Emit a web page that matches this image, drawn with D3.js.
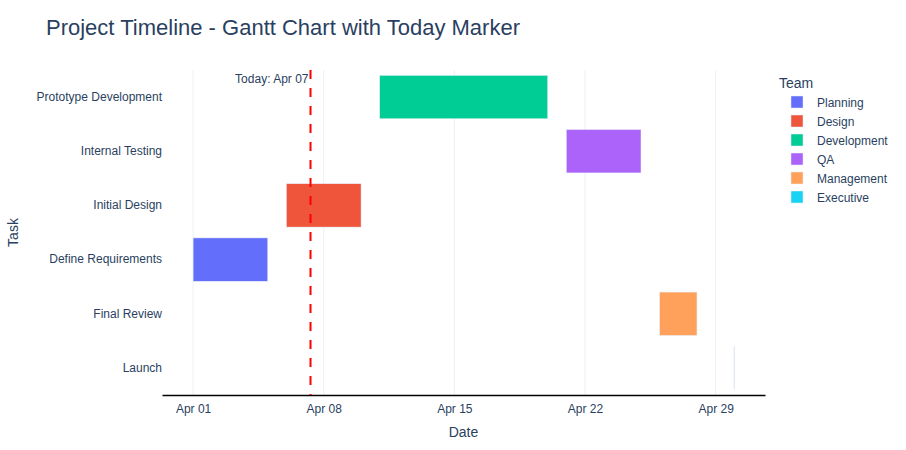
<!DOCTYPE html>
<html>
<head>
<meta charset="utf-8">
<script src="https://cdn.jsdelivr.net/npm/d3@7"></script>
<style>
  html, body { margin: 0; padding: 0; background: #fff; }
  svg { display: block; font-family: Arial, "Liberation Sans", sans-serif; }
</style>
</head>
<body>
<svg id="chart" width="906" height="450"></svg>
<script>
// ---- data ----
const tasks = ["Define Requirements", "Initial Design", "Prototype Development", "Internal Testing", "Final Review", "Launch"];
const starts = ["2024-04-01", "2024-04-06", "2024-04-11", "2024-04-21", "2024-04-26", "2024-04-30"];
const ends   = ["2024-04-05", "2024-04-10", "2024-04-20", "2024-04-25", "2024-04-28", "2024-04-30"];
const teams  = ["Planning", "Design", "Development", "QA", "Management", "Executive"];
const yOrder = ["Prototype Development", "Internal Testing", "Initial Design", "Define Requirements", "Final Review", "Launch"];
const legendTeams = ["Planning", "Design", "Development", "QA", "Management", "Executive"];
const teamColors = ["#636efa", "#EF553B", "#00cc96", "#ab63fa", "#FFA15A", "#19d3f3"];
const todayDate = "2024-04-07T07:00:00";
const todayLabel = "Today: Apr 07";
const xDomain = ["2024-03-30T08:00:00", "2024-05-01T15:30:00"];
const tickDates = ["2024-04-01", "2024-04-08", "2024-04-15", "2024-04-22", "2024-04-29"];

// ---- layout ----
const W = 906, H = 450;
const plot = { left: 162, right: 765, top: 70, bottom: 395 };
const txt = "#2a3f5f";
const parse = d => new Date(d + (d.length === 10 ? "T00:00:00" : ""));

const svg = d3.select("#chart");

const x = d3.scaleTime()
  .domain(xDomain.map(parse))
  .range([plot.left, plot.right]);
const y = d3.scaleBand()
  .domain(yOrder)
  .range([plot.top, plot.bottom])
  .paddingInner(0.2)
  .paddingOuter(0.1);
const color = d3.scaleOrdinal().domain(legendTeams).range(teamColors);

// gridlines
svg.append("g").selectAll("line")
  .data(tickDates.map(parse))
  .join("line")
  .attr("x1", d => x(d)).attr("x2", d => x(d))
  .attr("y1", plot.top).attr("y2", plot.bottom)
  .attr("stroke", "#ebf0f8").attr("stroke-width", 1);

// bars
const rows = tasks.map((t, i) => ({ task: t, start: parse(starts[i]), end: parse(ends[i]), team: teams[i] }));
const spanRows = rows.filter(d => +d.end > +d.start);
const zeroRows = rows.filter(d => +d.end <= +d.start);
svg.append("g").selectAll("rect")
  .data(spanRows)
  .join("rect")
  .attr("x", d => x(d.start))
  .attr("y", d => y(d.task))
  .attr("width", d => x(d.end) - x(d.start))
  .attr("height", y.bandwidth())
  .attr("fill", d => color(d.team))
  .attr("stroke", "#E5ECF6")
  .attr("stroke-width", 0.5);
// zero-duration bars show only their outline
svg.append("g").selectAll("line")
  .data(zeroRows)
  .join("line")
  .attr("x1", d => x(d.start)).attr("x2", d => x(d.start))
  .attr("y1", d => y(d.task)).attr("y2", d => y(d.task) + y.bandwidth())
  .attr("stroke", "#e2e9f3")
  .attr("stroke-width", 1.5);

// x axis
const xAxis = d3.axisBottom(x)
  .tickValues(tickDates.map(parse))
  .tickFormat(d3.timeFormat("%b %d"))
  .tickSize(0)
  .tickPadding(9);
const gx = svg.append("g").attr("transform", `translate(0,${plot.bottom})`).call(xAxis);
gx.select(".domain").attr("stroke", "#000").attr("stroke-width", 1.3);
gx.selectAll("text").attr("fill", txt).attr("font-size", 12).attr("font-family", "Arial, 'Liberation Sans', sans-serif");

// y axis
const yAxis = d3.axisLeft(y).tickSize(0).tickPadding(0);
const gy = svg.append("g").attr("transform", `translate(${plot.left},0)`).call(yAxis);
gy.select(".domain").remove();
gy.selectAll("text").attr("fill", txt).attr("font-size", 12).attr("font-family", "Arial, 'Liberation Sans', sans-serif");

// today marker
const tx = x(parse(todayDate));
svg.append("line")
  .attr("x1", tx).attr("x2", tx)
  .attr("y1", plot.top).attr("y2", plot.bottom)
  .attr("stroke", "red").attr("stroke-width", 2)
  .attr("stroke-dasharray", "9,9");
svg.append("text")
  .attr("x", tx - 2).attr("y", plot.top + 13)
  .attr("text-anchor", "end")
  .attr("fill", txt).attr("font-size", 12)
  .text(todayLabel);

// title
svg.append("text")
  .attr("x", 46).attr("y", 35)
  .attr("fill", txt).attr("font-size", 22)
  .text("Project Timeline - Gantt Chart with Today Marker");

// axis titles
svg.append("text")
  .attr("x", (plot.left + plot.right) / 2).attr("y", 437)
  .attr("text-anchor", "middle")
  .attr("fill", txt).attr("font-size", 14)
  .text("Date");
svg.append("text")
  .attr("transform", `translate(18,${(plot.top + plot.bottom) / 2}) rotate(-90)`)
  .attr("text-anchor", "middle")
  .attr("fill", txt).attr("font-size", 14)
  .text("Task");

// legend
const lg = svg.append("g");
lg.append("text")
  .attr("x", 779).attr("y", 88)
  .attr("fill", txt).attr("font-size", 14)
  .text("Team");
const items = lg.selectAll("g.item")
  .data(legendTeams)
  .join("g")
  .attr("class", "item")
  .attr("transform", (d, i) => `translate(0,${102 + i * 19})`);
items.append("rect")
  .attr("x", 791).attr("y", -6)
  .attr("width", 12).attr("height", 12)
  .attr("fill", d => color(d))
  .attr("stroke", "#E5ECF6").attr("stroke-width", 0.5);
items.append("text")
  .attr("x", 817).attr("y", 4.5)
  .attr("fill", txt).attr("font-size", 12)
  .text(d => d);
</script>
</body>
</html>
